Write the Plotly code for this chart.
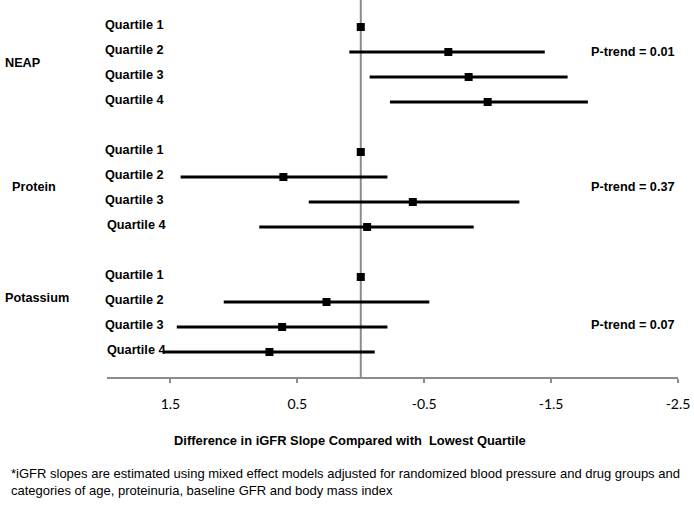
import plotly.graph_objects as go

groups = ["NEAP", "Protein", "Potassium"]
quartiles = ["Quartile 1", "Quartile 2", "Quartile 3", "Quartile 4"]
p_trend = ["P-trend = 0.01", "P-trend = 0.37", "P-trend = 0.07"]

neap_est = [0.0, -0.69, -0.85, -1.00]
neap_upper = [0.0, 0.09, -0.07, -0.23]
neap_lower = [0.0, -1.45, -1.63, -1.79]

protein_est = [0.0, 0.61, -0.41, -0.05]
protein_upper = [0.0, 1.42, 0.41, 0.80]
protein_lower = [0.0, -0.21, -1.25, -0.89]

potassium_est = [0.0, 0.27, 0.62, 0.72]
potassium_upper = [0.0, 1.08, 1.45, 1.56]
potassium_lower = [0.0, -0.54, -0.21, -0.11]

tick_vals = [1.5, 0.5, -0.5, -1.5, -2.5]
tick_text = ["1.5", "0.5", "-0.5", "-1.5", "-2.5"]

x_title = "Difference in iGFR Slope Compared with  Lowest Quartile"
footnote = ("*iGFR slopes are estimated using mixed effect models adjusted for randomized blood pressure and drug groups and<br>"
            "categories of age, proteinuria, baseline GFR and body mass index")

series = [
    (neap_est, neap_upper, neap_lower),
    (protein_est, protein_upper, protein_lower),
    (potassium_est, potassium_upper, potassium_lower),
]

W, H = 694, 506
PL, PR, PT, PB = 107, 678, 0, 377  # plot area in pixels


def px(x):
    return (x - PL) / (PR - PL)


def py(y):
    return (PB - y) / (PB - PT)


fig = go.Figure()
bold = dict(family="Liberation Sans, Arial", size=12.7, color="black", weight="bold")

for gi, (est, up, lo) in enumerate(series):
    rows = [gi * 5 + q for q in range(4)]
    plus = [u - e for u, e in zip(up, est)]
    minus = [e - l for e, l in zip(est, lo)]
    fig.add_trace(go.Scatter(
        x=est, y=rows, mode="markers",
        marker=dict(symbol="square", size=8, color="black"),
        error_x=dict(type="data", array=plus, arrayminus=minus, symmetric=False,
                     thickness=3, width=0, color="black"),
        showlegend=False, hoverinfo="skip"))
    for q, r in enumerate(rows):
        lx = 105 if (gi > 0 and q == 3) else 103
        fig.add_annotation(x=px(lx), xref="paper",
                           y=r - 0.08, yref="y", text=quartiles[q],
                           showarrow=False, xanchor="left", yanchor="middle", font=bold)

# group labels
grp_pos = [(3, 1.45), (10, 6.4), (3, 10.85)]
for g, (gx, gy) in zip(groups, grp_pos):
    fig.add_annotation(x=px(gx), xref="paper", y=gy, yref="y", text=g, showarrow=False,
                       xanchor="left", yanchor="middle", font=bold)

# p-trend labels
pt_rows = [1, 6.4, 11.9]
for t, r in zip(p_trend, pt_rows):
    fig.add_annotation(x=px(589), xref="paper", y=r, yref="y", text=t, showarrow=False,
                       xanchor="left", yanchor="middle", font=bold)

# zero line
fig.add_shape(type="line", x0=0, x1=0, xref="x", y0=0, y1=1, yref="paper",
              line=dict(color="#8c8c8c", width=2), layer="below")

fig.add_annotation(x=px(350), xref="paper", y=py(440), yref="paper",
                   text=x_title, showarrow=False, xanchor="center", yanchor="middle",
                   font=dict(family="Liberation Sans Narrow, Arial", size=12.9, color="black", weight="bold"))
fig.add_annotation(x=px(9), xref="paper", y=py(482), yref="paper",
                   text=footnote, showarrow=False, xanchor="left", yanchor="middle", align="left",
                   font=dict(family="Liberation Sans Narrow, Arial", size=13, color="black"))

fig.update_layout(
    width=W, height=H,
    margin=dict(l=PL, r=W - PR, t=PT, b=H - PB),
    paper_bgcolor="white", plot_bgcolor="white",
    xaxis=dict(range=[2.0, -2.5], tickvals=tick_vals, ticktext=tick_text,
               showgrid=False, zeroline=False, showline=True, linecolor="#8c8c8c", linewidth=2,
               ticks="outside", ticklen=4, tickwidth=1.5, tickcolor="#8c8c8c",
               tickfont=dict(family="Lato, Carlito, Calibri", size=14, color="black"),
               ticklabelstandoff=9),
    yaxis=dict(range=[14, -1.08], showgrid=False, zeroline=False, showticklabels=False,
               showline=False, ticks=""),
)

fig.write_html("out.html", config={"displayModeBar": False},
               post_script="document.body.style.margin='0';")
